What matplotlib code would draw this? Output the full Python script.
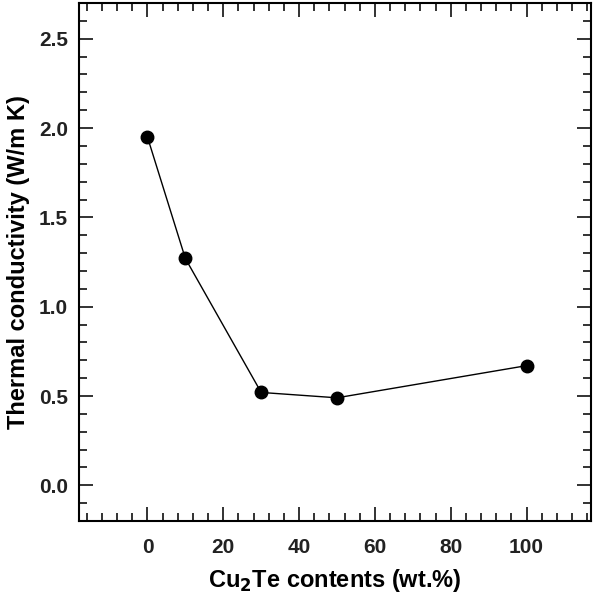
import matplotlib
matplotlib.use('Agg')
import matplotlib.pyplot as plt
from matplotlib.ticker import MultipleLocator

# Datos
cu2te_wt = [0, 10, 30, 50, 100]
thermal_k = [1.95, 1.27, 0.52, 0.49, 0.67]

plt.rcParams['font.family'] = ['Liberation Sans', 'DejaVu Sans']
plt.rcParams['font.weight'] = 'bold'

fig = plt.figure(figsize=(6.0, 6.01), dpi=100)
ax = fig.add_axes([0.132, 0.133, 0.853, 0.862])

ax.plot(cu2te_wt, thermal_k, color='black', linewidth=1.0,
        marker='o', markersize=9, markerfacecolor='black')

ax.set_xlim(-18, 117)
ax.set_ylim(-0.2, 2.7)
ax.xaxis.set_major_locator(MultipleLocator(20))
ax.xaxis.set_minor_locator(MultipleLocator(4))
ax.yaxis.set_major_locator(MultipleLocator(0.5))
ax.yaxis.set_minor_locator(MultipleLocator(0.1))
ax.set_xticks([0, 20, 40, 60, 80, 100])
ax.yaxis.set_major_formatter(plt.FormatStrFormatter('%.1f'))

ax.tick_params(which='both', direction='in', top=True, right=True,
               width=1.3, colors='#222222')
ax.tick_params(which='major', length=10, labelsize=15, pad=12)
ax.tick_params(which='minor', length=6)
ax.tick_params(axis='y', which='major', pad=8)
for s in ax.spines.values():
    s.set_linewidth(1.5)

ax.set_xlabel('Cu$_\\mathbf{2}$Te contents (wt.%)', fontsize=17, fontweight='bold')
ax.set_ylabel('Thermal conductivity (W/m K)', fontsize=17, fontweight='bold')
ax.xaxis.set_label_coords(0.5, -0.114)
ax.yaxis.set_label_coords(-0.119, 0.5)
ax.xaxis.label.set_va('center')
ax.yaxis.label.set_va('center')

fig.savefig('out.png', dpi=100)
